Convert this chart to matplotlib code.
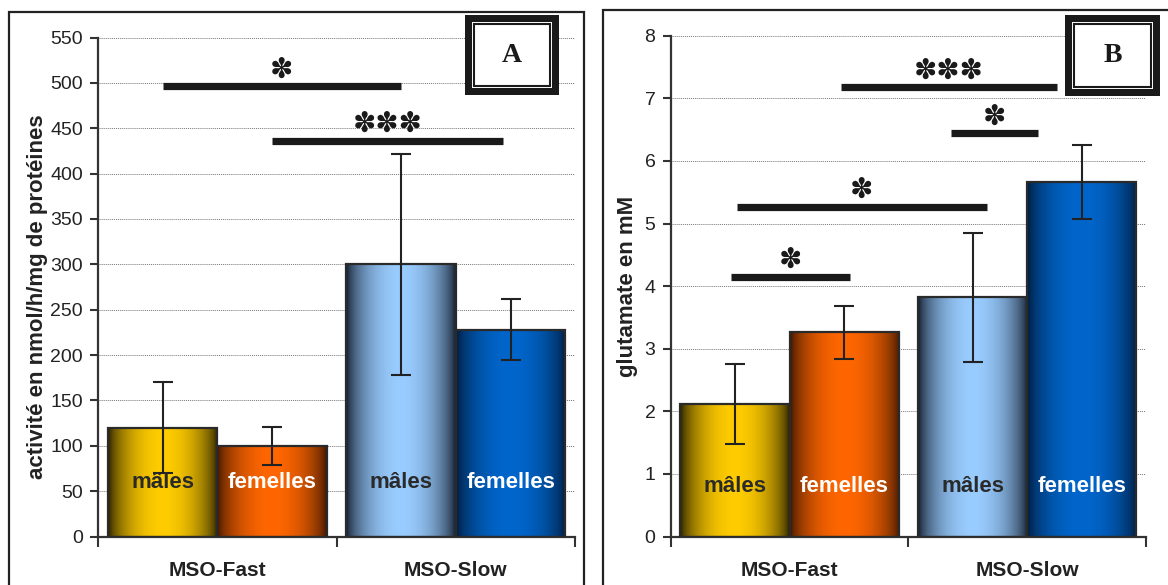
import numpy as np
import matplotlib
matplotlib.use("Agg")
import matplotlib.pyplot as plt
from matplotlib.patches import Rectangle
from matplotlib.ticker import MultipleLocator, FixedLocator

plt.rcParams['font.family'] = ['Liberation Sans', 'DejaVu Sans']

# ---------------- data ----------------
categories = ["MSO-Fast", "MSO-Slow"]
sexes = ["mâles", "femelles"]

a_males = [120, 300]
a_males_err = [50, 122]
a_females = [100, 228]
a_females_err = [21, 34]

b_males = [2.12, 3.82]
b_males_err = [0.64, 1.03]
b_females = [3.26, 5.66]
b_females_err = [0.42, 0.59]

# significance bars: (x start, x end, y, label) in data coords
sig_a = [(-0.23, 0.77, 496, "*"), (0.23, 1.20, 436, "***")]
sig_b = [(-0.245, 0.254, 4.15, "*"), (-0.223, 0.829, 5.27, "*"),
         (0.217, 1.124, 7.18, "***"), (0.681, 1.044, 6.44, "*")]

ylabel_a = "activité en nmol/h/mg de protéines"
ylabel_b = "glutamate en mM"

# colours (dark edge, bright centre)
male_fast = ((0.10, 0.08, 0.0), (1.00, 0.80, 0.00))
female_fast = ((0.20, 0.07, 0.0), (1.00, 0.40, 0.00))
male_slow = ((0.04, 0.07, 0.12), (0.60, 0.80, 1.00))
female_slow = ((0.00, 0.09, 0.20), (0.00, 0.40, 0.80))
bar_cols = {("m", 0): male_fast, ("f", 0): female_fast,
            ("m", 1): male_slow, ("f", 1): female_slow}

W, H = 1168, 585
fig = plt.figure(figsize=(W / 100, H / 100), dpi=100)


def px(x0, y0, x1, y1):
    return [x0 / W, 1 - y1 / H, (x1 - x0) / W, (y1 - y0) / H]


def gradient(ax, patch, cols):
    dark, bright = np.array(cols[0]), np.array(cols[1])
    t = np.linspace(0, 1, 200)
    w = np.sin(np.pi * t) ** 0.6
    img = dark[None, :] * (1 - w[:, None]) + bright[None, :] * w[:, None]
    img = img[None, :, :]
    x0 = patch.get_x()
    x1 = x0 + patch.get_width()
    h = patch.get_height()
    im = ax.imshow(img, extent=[x0, x1, 0, h], aspect='auto',
                   interpolation='bilinear', zorder=2)
    im.set_clip_path(patch)


def panel(rect, ylim, step, males, merr, females, ferr, sigs, ylabel,
          text_y, ylabel_xy):
    ax = fig.add_axes(rect)
    x = np.arange(len(categories))
    bw = 0.46
    bm = ax.bar(x - bw / 2, males, bw, facecolor='none', edgecolor='#2a2a2a',
                linewidth=1.6, zorder=3)
    bf = ax.bar(x + bw / 2, females, bw, facecolor='none', edgecolor='#2a2a2a',
                linewidth=1.6, zorder=3)
    for i, p in enumerate(bm):
        gradient(ax, p, bar_cols[("m", i)])
    for i, p in enumerate(bf):
        gradient(ax, p, bar_cols[("f", i)])
    ax.errorbar(x - bw / 2, males, yerr=merr, fmt='none', ecolor='#222222',
                elinewidth=1.5, capsize=7.5, capthick=1.5, zorder=4)
    ax.errorbar(x + bw / 2, females, yerr=ferr, fmt='none', ecolor='#222222',
                elinewidth=1.5, capsize=7.5, capthick=1.5, zorder=4)
    for i in range(len(categories)):
        ax.text(x[i] - bw / 2, text_y, sexes[0], ha='center', va='center',
                fontsize=16, fontweight='bold', color='#2a2a2a', zorder=5)
        ax.text(x[i] + bw / 2, text_y, sexes[1], ha='center', va='center',
                fontsize=16, fontweight='bold', color='white', zorder=5)
    for (s, e, yv, lab) in sigs:
        ax.plot([s, e], [yv, yv], color='#1a1a1a', lw=5.2,
                solid_capstyle='butt', zorder=5)
        ax.annotate("✽" * len(lab), xy=((s + e) / 2, yv), xytext=(0, 12),
                    textcoords='offset points', ha='center', va='center',
                    fontsize=20, family='DejaVu Sans', color='#1a1a1a',
                    zorder=5)
    ax.set_xlim(-0.5, 1.5)
    ax.set_ylim(*ylim)
    ax.yaxis.set_major_locator(MultipleLocator(step))
    ax.set_xticks(x)
    ax.set_xticklabels(categories, fontsize=15, fontweight='bold',
                       color='#222222')
    ax.xaxis.set_minor_locator(FixedLocator([-0.5, 0.5, 1.5]))
    ax.tick_params(axis='x', which='major', length=0, pad=18)
    ax.tick_params(axis='x', which='minor', length=7, width=1.5,
                   color='#333333', direction='out')
    ax.tick_params(axis='y', length=6, width=1.5, color='#333333',
                   labelsize=14, labelcolor='#222222', pad=5)
    ax.grid(axis='y', color='#777777', linestyle=(0, (1, 1)), linewidth=0.7,
            zorder=0)
    ax.set_axisbelow(True)
    for sp in ['top', 'right']:
        ax.spines[sp].set_visible(False)
    for sp in ['left', 'bottom']:
        ax.spines[sp].set_color('#333333')
        ax.spines[sp].set_linewidth(1.6)
    ax.set_ylabel(ylabel, fontsize=16, fontweight='bold', color='#222222')
    ax.yaxis.set_label_coords(*ylabel_xy)
    return ax


axA = panel(px(98.3, 37.5, 575, 536.5), (0, 550), 50, a_males, a_males_err,
            a_females, a_females_err, sig_a, ylabel_a, 59, (-0.105, 0.48))
axB = panel(px(670.7, 35.7, 1146, 536.5), (0, 8), 1, b_males, b_males_err,
            b_females, b_females_err, sig_b, ylabel_b, 0.8, (-0.068, 0.5))


# panel frames
def frect(x0, y0, x1, y1, **kw):
    r = Rectangle((x0 / W, 1 - y1 / H), (x1 - x0) / W, (y1 - y0) / H,
                  transform=fig.transFigure, **kw)
    fig.add_artist(r)
    return r


frect(9, 12, 584, 600, fill=False, edgecolor='#222222', linewidth=1.6)
frect(603, 10, 1180, 600, fill=False, edgecolor='#222222', linewidth=1.6)


def label_box(x0, y0, x1, y1, letter):
    frect(x0, y0, x1, y1, facecolor='#1a1a1a', edgecolor='none', zorder=10)
    frect(x0 + 7, y0 + 7, x1 - 7, y1 - 7, facecolor='white', edgecolor='none',
          zorder=11)
    frect(x0 + 9, y0 + 9, x1 - 9, y1 - 9, facecolor='white',
          edgecolor='#1a1a1a', linewidth=1.5, zorder=12)
    fig.text((x0 + x1) / 2 / W, 1 - (y0 + y1) / 2 / H, letter, ha='center',
             va='center', fontsize=20, fontweight='bold',
             family='Liberation Serif', color='#1a1a1a', zorder=13)


label_box(465, 15, 559, 95, "A")
label_box(1065, 15, 1160, 96, "B")

fig.savefig("out.png", dpi=100, facecolor='white')
